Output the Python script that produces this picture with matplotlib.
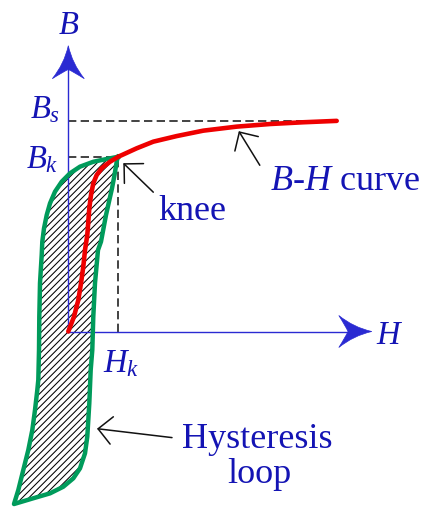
import matplotlib
matplotlib.use("Agg")
import matplotlib.pyplot as plt
from matplotlib.path import Path
from matplotlib.patches import PathPatch
from matplotlib.transforms import IdentityTransform

# Magnetisation (B-H) curve, H in units of H_k and B in units of B_k
bh_H = [0.0, 0.114, 0.200, 0.254, 0.300, 0.334, 0.380, 0.400, 0.420, 0.454,
        0.500, 0.568, 0.668, 0.834, 1.0, 1.10, 1.368, 1.700, 2.168, 2.700,
        3.368, 4.034, 4.700, 5.368]
bh_B = [0.0, 0.085, 0.180, 0.276, 0.371, 0.466, 0.552, 0.628, 0.705, 0.781,
        0.848, 0.895, 0.934, 0.971, 1.0, 1.013, 1.048, 1.086, 1.118, 1.149,
        1.172, 1.187, 1.197, 1.205]

# Hysteresis loop (closed), same units
loop_H = [1.0, 0.768, 0.500, 0.234, 0.034, -0.132, -0.266, -0.366, -0.432,
          -0.486, -0.520, -0.532, -0.566, -0.580, -0.586, -0.600, -0.620,
          -0.666, -0.720, -0.800, -0.900, -1.000, -1.086,
          -0.700, -0.366, -0.100, 0.100, 0.234, 0.334, 0.380, 0.400, 0.420,
          0.434, 0.448, 0.480, 0.500, 0.534, 0.594, 0.654, 0.704, 0.754,
          0.814, 0.874, 0.924, 0.974, 1.0]
loop_B = [1.0, 0.987, 0.971, 0.943, 0.905, 0.857, 0.800, 0.733, 0.666,
          0.590, 0.514, 0.438, 0.277, 0.085, -0.106, -0.277, -0.335,
          -0.449, -0.564, -0.678, -0.792, -0.907, -0.987,
          -0.954, -0.926, -0.888, -0.840, -0.783, -0.697, -0.602, -0.506, -0.411,
          -0.316, -0.220, -0.106, 0.085, 0.277, 0.466, 0.514, 0.590, 0.666,
          0.743, 0.819, 0.895, 0.981, 1.0]

H_knee, B_knee, B_sat = 1.0, 1.0, 1.205
H_axis_end, B_axis_end = 6.07, 1.635

plt.rcParams["font.family"] = ["Liberation Serif", "DejaVu Serif"]
plt.rcParams["mathtext.fontset"] = "custom"
plt.rcParams["mathtext.rm"] = "Liberation Serif"
plt.rcParams["mathtext.it"] = "Liberation Serif:italic"
plt.rcParams["hatch.color"] = "black"
plt.rcParams["hatch.linewidth"] = 0.75

BLUE_TXT = "#1414b4"
BLUE_AX = "#2a2ad2"
RED = "#ee0000"
GREEN = "#009b5b"

fig = plt.figure(figsize=(4.27, 5.08), dpi=100)
ax = fig.add_axes([0, 0, 1, 1])
ax.set_xlim(-68.3 / 50, 358.7 / 50)
ax.set_ylim(-176.5 / 174.8, 331.5 / 174.8)
ax.axis("off")

# hatched area enclosed by the hysteresis loop
ax.fill(loop_H, loop_B, facecolor="white", edgecolor="black",
        hatch="/////", linewidth=0, zorder=1)


def arrow_head(tip, direction, length=33, half_width=16, color=BLUE_AX):
    """Concave-backed filled arrow head, sizes in pixels."""
    tx, ty = ax.transData.transform(tip)
    ux, uy = direction
    vx, vy = -uy, ux

    def pt(u, v):
        return (tx + u * ux + v * vx, ty + u * uy + v * vy)

    L, W = length, half_width
    verts = [pt(0, 0),
             pt(-0.55 * L, 0.25 * W), pt(-L, W),
             pt(-0.8 * L, 0.35 * W), pt(-0.72 * L, 0),
             pt(-0.8 * L, -0.35 * W), pt(-L, -W),
             pt(-0.55 * L, -0.25 * W), pt(0, 0),
             pt(0, 0)]
    codes = [Path.MOVETO,
             Path.CURVE3, Path.CURVE3,
             Path.CURVE3, Path.CURVE3,
             Path.CURVE3, Path.CURVE3,
             Path.CURVE3, Path.CURVE3,
             Path.CLOSEPOLY]
    ax.add_patch(PathPatch(Path(verts, codes), facecolor=color, edgecolor=color,
                           linewidth=0.5, transform=IdentityTransform(), zorder=4))


# axes with arrow heads
ax.plot([0, H_axis_end - 20 / 50], [0, 0], color=BLUE_AX, lw=1.0, zorder=3)
ax.plot([0, 0], [0, B_axis_end - 20 / 174.8], color=BLUE_AX, lw=1.0, zorder=3)
arrow_head((H_axis_end, 0), (1, 0))
arrow_head((0, B_axis_end), (0, 1))

# reference levels
dash = dict(color="#222222", lw=1.2, dashes=(5, 2.6), zorder=2)
ax.plot([0, bh_H[-1]], [B_sat, B_sat], **dash)
ax.plot([0, H_knee], [B_knee, B_knee], **dash)
ax.plot([H_knee, H_knee], [0, B_knee], **dash)

# curves
ax.plot(loop_H, loop_B, color=GREEN, lw=3.2, solid_joinstyle="round", zorder=5)
ax.plot(bh_H, bh_B, color=RED, lw=3.3, solid_joinstyle="round",
        solid_capstyle="round", zorder=6)

# axis and level labels
lab = dict(color=BLUE_TXT, fontsize=23.5, textcoords="offset pixels",
           va="baseline", zorder=7)
ax.annotate("$B$", xy=(0, B_axis_end), xytext=(0, 12), ha="center", **lab)
ax.annotate("$H$", xy=(H_axis_end, 0), xytext=(4, -12), ha="left", **lab)
ax.annotate("$B_s$", xy=(0, B_sat), xytext=(-8, 3), ha="right", **lab)
ax.annotate("$B_k$", xy=(0, B_knee), xytext=(-10, -11), ha="right", **lab)
ax.annotate("$H_k$", xy=(H_knee, 0), xytext=(3, -41), ha="center", **lab)

# callouts
arr = dict(arrowstyle="->,head_length=0.45,head_width=0.45", color="#111111",
           lw=1.1, mutation_scale=22, shrinkA=0, shrinkB=0)
ax.annotate("", xy=(1.10, 0.963), xytext=(1.70, 0.797), arrowprops=arr, zorder=7)
ax.annotate("", xy=(3.41, 1.146), xytext=(3.83, 0.951), arrowprops=arr, zorder=7)
ax.annotate("", xy=(0.574, -0.556), xytext=(2.074, -0.607), arrowprops=arr, zorder=7)

txt = dict(color=BLUE_TXT, fontsize=26, va="baseline", zorder=7)
ax.text(1.795, 0.636, "knee", ha="left", **txt)
ax.text(4.03, 0.808, "$B$-$H$ curve", ha="left", **txt)
ax.text(2.274, -0.665, "Hysteresis", ha="left", **txt)
ax.text(3.824, -0.865, "loop", ha="center", **txt)

fig.savefig("out.png", dpi=100)
